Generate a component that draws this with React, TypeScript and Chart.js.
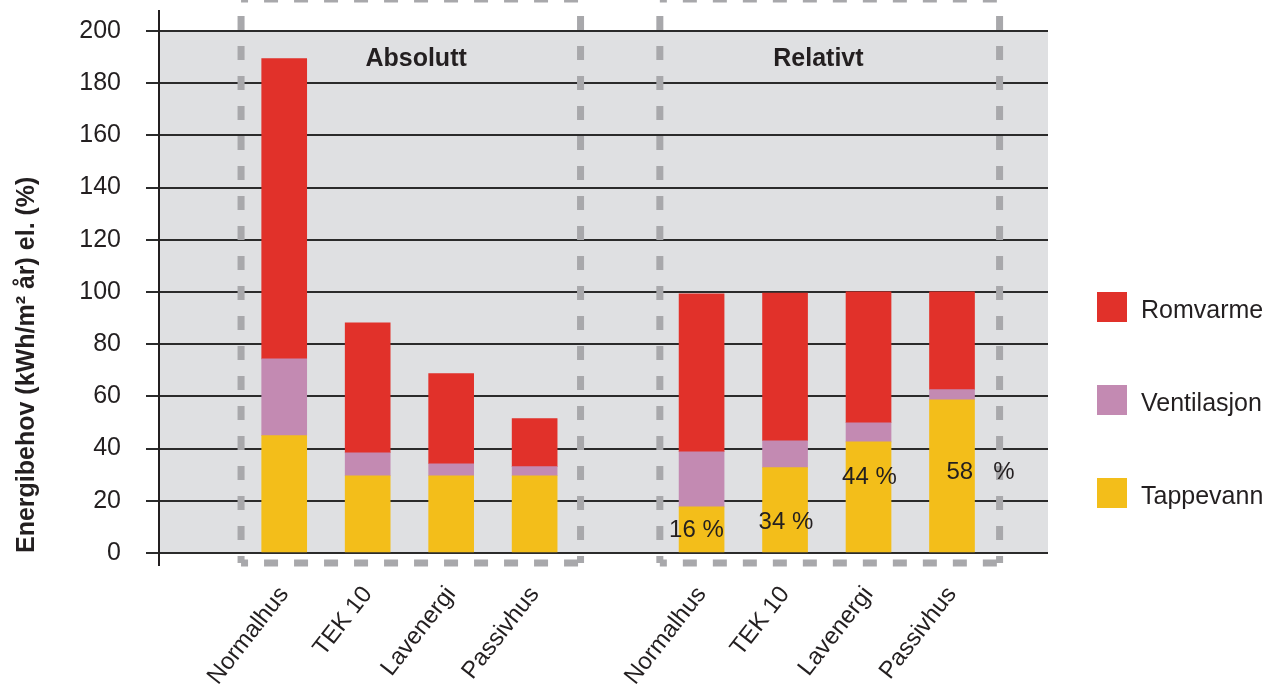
import React, { useEffect, useRef } from 'react';
import { Chart, registerables } from 'chart.js';

Chart.register(...registerables);

// ---------- data ----------
const categories = ['Normalhus', 'TEK 10', 'Lavenergi', 'Passivhus'];
const groupTitles = ['Absolutt', 'Relativt'];
const seriesNames = ['Tappevann', 'Ventilasjon', 'Romvarme'];
const seriesColors = ['#f3be1a', '#c38ab2', '#e1312a'];

// Absolutt (kWh/m² år)
const absTappevann = [45, 29.6, 29.6, 29.6];
const absVentilasjon = [29.4, 8.8, 4.6, 3.5];
const absRomvarme = [115, 49.8, 34.5, 18.4];

// Relativt (%)
const relTappevann = [17.7, 32.7, 42.6, 58.7];
const relVentilasjon = [21.1, 10.3, 7.3, 3.9];
const relRomvarme = [60.5, 56.6, 50.2, 37.5];

const relLabels = ['16 %', '34 %', '44 %', '58   %'];
const yTickValues = [0, 20, 40, 60, 80, 100, 120, 140, 160, 180, 200];
const yTitle = 'Energibehov (kWh/m² år) el. (%)';

// ---------- layout / style constants ----------
const FONT = '"Liberation Sans", Arial, Helvetica, sans-serif';
const TEXT = '#231f20';
const GAP = 1; // empty slot between the two groups
const pctLabelLayout = [
  { dx: -10, v: 8.5 },
  { dx: -4, v: 11.6 },
  { dx: -4, v: 28.8 },
  { dx: 17, v: 30.8 },
];
const groupTitleX = [1.58, 6.4];
const groupTitleV = 189.4;
const boxRanges = [
  [-0.517, 3.55],
  [4.5, 8.57],
];

const groupValues = [
  [absTappevann, absVentilasjon, absRomvarme],
  [relTappevann, relVentilasjon, relRomvarme],
];

const xIndex = (g: number, i: number) => g * (categories.length + GAP) + i;

const tickLabelMap = new Map<number, string>();
[0, 1].forEach((g) => categories.forEach((c, i) => tickLabelMap.set(xIndex(g, i), c)));

const datasets = seriesNames.map((name, s) => ({
  label: name,
  backgroundColor: seriesColors[s],
  borderWidth: 0,
  barThickness: 45,
  data: [0, 1].flatMap((g) =>
    groupValues[g][s].map((v, i) => ({ x: xIndex(g, i), y: v }))
  ),
}));

const overlayPlugin = {
  id: 'overlay',
  beforeDraw(chart: any) {
    const { ctx, chartArea: a } = chart;
    ctx.save();
    ctx.fillStyle = '#dfe0e2';
    ctx.fillRect(a.left, a.top, a.right - a.left, a.bottom - a.top);
    ctx.restore();
  },
  afterDatasetsDraw(chart: any) {
    const { ctx, chartArea: a } = chart;
    const x = chart.scales.x;
    const y = chart.scales.y;
    ctx.save();

    // vertical axis line (extends beyond plot area)
    ctx.strokeStyle = TEXT;
    ctx.lineWidth = 2;
    ctx.beginPath();
    ctx.moveTo(a.left, a.top - 21);
    ctx.lineTo(a.left, a.bottom + 13);
    ctx.stroke();

    // dashed group boxes
    ctx.strokeStyle = '#a8a8ab';
    ctx.lineWidth = 7;
    ctx.lineCap = 'butt';
    ctx.setLineDash([14, 16]);
    ctx.lineDashOffset = 7;
    const top = a.top - 32;
    const bottom = a.bottom + 10;
    boxRanges.forEach(([l, r]) => {
      const xl = x.getPixelForValue(l);
      const xr = x.getPixelForValue(r);
      const seg = (x1: number, y1: number, x2: number, y2: number) => {
        ctx.beginPath();
        ctx.moveTo(x1, y1);
        ctx.lineTo(x2, y2);
        ctx.stroke();
      };
      seg(xl, bottom, xr, bottom);
      seg(xl, bottom, xl, top);
      seg(xr, bottom, xr, top);
      seg(xl, top, xr, top);
    });
    ctx.setLineDash([]);

    // group titles
    ctx.fillStyle = TEXT;
    ctx.font = `bold 25px ${FONT}`;
    ctx.textAlign = 'center';
    ctx.textBaseline = 'middle';
    groupTitles.forEach((t, g) => {
      ctx.fillText(t, x.getPixelForValue(groupTitleX[g]), y.getPixelForValue(groupTitleV));
    });

    // percentage labels on relative Tappevann bars
    const meta = chart.getDatasetMeta(0);
    ctx.font = `24px ${FONT}`;
    ctx.textAlign = 'left';
    relLabels.forEach((t, i) => {
      const bar = meta.data[categories.length + i];
      const lay = pctLabelLayout[i];
      ctx.fillText(t, bar.x - 22.5 + lay.dx, y.getPixelForValue(lay.v));
    });

    // legend (top to bottom: Romvarme, Ventilasjon, Tappevann)
    ctx.font = `25px ${FONT}`;
    ctx.textBaseline = 'middle';
    const order = [2, 1, 0];
    order.forEach((s, k) => {
      const bx = a.right + 49;
      const by = a.top + 261 + k * 93;
      ctx.fillStyle = seriesColors[s];
      ctx.fillRect(bx, by, 30, 30);
      ctx.fillStyle = TEXT;
      ctx.fillText(seriesNames[s], bx + 44, by + 19);
    });

    ctx.restore();
  },
};

export default function App() {
  const ref = useRef<HTMLCanvasElement | null>(null);

  useEffect(() => {
    if (!ref.current) return;
    const chart = new Chart(ref.current, {
      type: 'bar',
      data: { datasets: datasets as any },
      plugins: [overlayPlugin],
      options: {
        animation: false,
        responsive: false,
        devicePixelRatio: 1,
        layout: { padding: { top: 31, right: 233, left: 0, bottom: 0 } },
        plugins: {
          legend: { display: false },
          tooltip: { enabled: false },
        },
        scales: {
          x: {
            type: 'linear',
            min: -1.5,
            max: 9.15,
            offset: false,
            stacked: true,
            grid: { display: false, offset: false },
            border: { display: false },
            afterBuildTicks: (scale: any) => {
              scale.ticks = Array.from(tickLabelMap.keys()).map((v) => ({ value: v }));
            },
            afterFit: (scale: any) => {
              scale.height = 142;
              scale.paddingLeft = 0;
              scale.paddingRight = 0;
              scale.paddingTop = 0;
              scale.paddingBottom = 0;
            },
            ticks: {
              autoSkip: false,
              minRotation: 52,
              maxRotation: 52,
              padding: 20,
              color: TEXT,
              font: { family: FONT, size: 24 },
              callback: (v: any) => tickLabelMap.get(Number(v)) ?? '',
            },
          },
          y: {
            min: 0,
            max: 200,
            stacked: true,
            afterBuildTicks: (scale: any) => {
              scale.ticks = yTickValues.map((v) => ({ value: v }));
            },
            afterFit: (scale: any) => {
              scale.width = 159;
              scale.paddingTop = 0;
              scale.paddingBottom = 0;
              scale.paddingLeft = 0;
              scale.paddingRight = 0;
            },
            grid: {
              color: '#2b2b2b',
              lineWidth: 2,
              tickLength: 13,
              tickColor: '#2b2b2b',
            },
            border: { display: false },
            ticks: {
              padding: 25,
              color: TEXT,
              font: { family: FONT, size: 25 },
            },
            title: {
              display: true,
              text: yTitle,
              align: 'start',
              color: TEXT,
              font: { family: FONT, size: 25, weight: 'bold' },
              padding: { top: 12, bottom: 0 },
            },
          },
        },
      } as any,
    });
    return () => chart.destroy();
  }, []);

  return (
    <div style={{ position: 'fixed', left: 0, top: 0, width: 1281, height: 695, background: '#fff' }}>
      <canvas ref={ref} width={1281} height={695} style={{ display: 'block' }} />
    </div>
  );
}
